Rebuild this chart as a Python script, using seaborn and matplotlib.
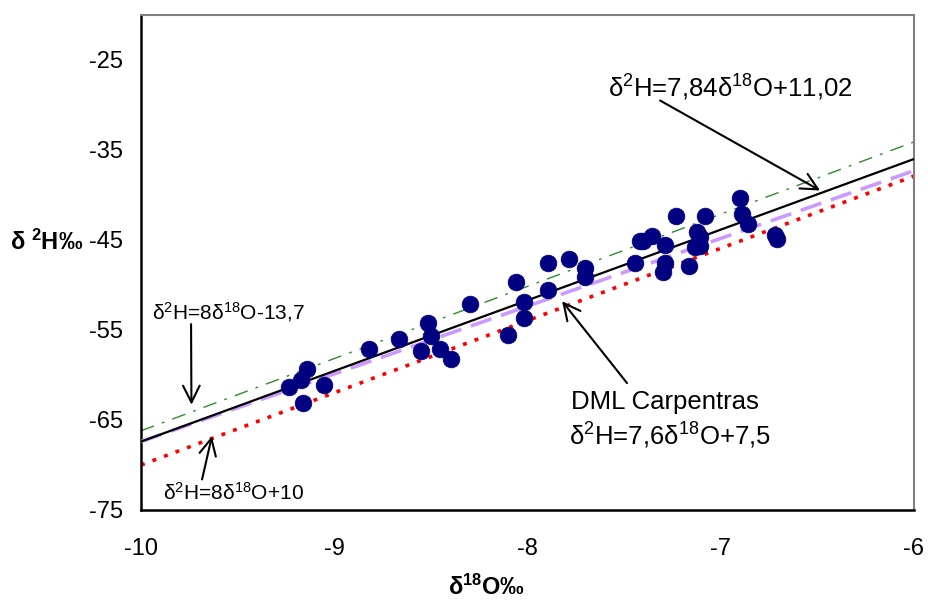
import matplotlib
matplotlib.use("Agg")
import matplotlib.pyplot as plt
import seaborn as sns
import pandas as pd

# ---- data ----
d18O = [-9.234, -9.170, -9.139, -9.162, -9.055, -8.820, -8.663, -8.516, -8.498,
        -8.550, -8.454, -8.394, -8.298, -8.061, -7.895, -7.784, -7.701, -7.701,
        -7.895, -8.020, -8.020, -8.103, -7.444, -7.418, -7.404, -7.357, -7.289,
        -7.233, -7.289, -7.297, -7.163, -7.121, -7.107, -7.132, -7.107, -7.080,
        -6.900, -6.892, -6.861, -6.719, -6.707]
d2H = [-61.3, -60.6, -59.3, -63.1, -61.1, -57.1, -56.0, -54.2, -55.7,
       -57.3, -57.1, -58.2, -52.1, -49.7, -47.5, -47.1, -48.1, -49.1,
       -50.6, -51.9, -53.7, -55.5, -47.5, -45.1, -45.1, -44.6, -45.5,
       -42.3, -47.5, -48.6, -47.9, -44.1, -44.7, -45.8, -45.7, -42.3,
       -40.3, -42.1, -43.2, -44.4, -44.9]

line_x = [-10, -6]
local_y = [-67.4, -36.0]     # d2H = 7,84 d18O + 11,02
green_y = [-66.2, -34.1]     # d2H = 8 d18O (+/-)13,7
red_y = [-70.0, -37.9]       # d2H = 8 d18O + 10
purple_y = [-67.4, -37.3]    # DML Carpentras

x_ticks = [-10, -9, -8, -7, -6]
y_ticks = [-75, -65, -55, -45, -35, -25]

# ---- style ----
sns.set_style("white")
plt.rcParams["font.family"] = ["Liberation Sans", "DejaVu Sans"]
plt.rcParams["mathtext.fontset"] = "custom"
plt.rcParams["mathtext.rm"] = "Liberation Sans"
plt.rcParams["mathtext.bf"] = "Liberation Sans:bold"
plt.rcParams["mathtext.default"] = "regular"
plt.rcParams["axes.unicode_minus"] = False
plt.rcParams["text.color"] = "black"
plt.rcParams["axes.labelcolor"] = "black"
plt.rcParams["xtick.color"] = "black"
plt.rcParams["ytick.color"] = "black"

fig = plt.figure(figsize=(9.29, 6.03), dpi=100)
ax = fig.add_axes([141 / 929, 93 / 603, 773 / 929, 495 / 603])

sns.lineplot(x=line_x, y=green_y, ax=ax, color="#2E8B2E", lw=1.0,
             linestyle=(0, (10, 6, 2, 6)), zorder=2)
sns.lineplot(x=line_x, y=red_y, ax=ax, color="#FF0000", lw=2.6,
             linestyle=(0, (1.1, 2.3)), zorder=2)
sns.lineplot(x=line_x, y=purple_y, ax=ax, color="#CC99FF", lw=2.6,
             linestyle=(0, (6, 2.8)), zorder=3)
sns.lineplot(x=line_x, y=local_y, ax=ax, color="black", lw=1.6, zorder=4)

df = pd.DataFrame({"d18O": d18O, "d2H": d2H})
sns.scatterplot(data=df, x="d18O", y="d2H", ax=ax, s=145, color="#000080",
                edgecolor="#000080", linewidth=0.5, zorder=5)

ax.set_xlim(-10, -6)
ax.set_ylim(-75, -20)
ax.set_xticks(x_ticks)
ax.set_yticks(y_ticks)
ax.tick_params(axis="both", direction="in", length=6, width=1.2, labelsize=17,
               colors="black", labelcolor="black")
ax.tick_params(axis="x", pad=20)
ax.tick_params(axis="y", pad=13)

for s in ["left", "bottom"]:
    ax.spines[s].set_color("black")
    ax.spines[s].set_linewidth(1.8)
for s in ["top", "right"]:
    ax.spines[s].set_color("#808080")
    ax.spines[s].set_linewidth(1.5)
    ax.spines[s].set_visible(True)

ax.set_xlabel("δ$^{18}$O‰", fontsize=17, fontweight="bold", va="center",
              color="black")
ax.xaxis.set_label_coords(0.4476, -0.157)
ax.set_ylabel("δ $^{2}$H‰", fontsize=17, fontweight="bold", rotation=0,
              ha="center", va="center", color="black")
ax.yaxis.set_label_coords(-0.122, 0.541)

arrow = dict(arrowstyle="->,head_length=1.2,head_width=0.6", lw=1.5,
             color="black", shrinkA=0, shrinkB=0)

# top equation
ax.text(-6.952, -28.15, "δ$^{2}$H=7,84δ$^{18}$O+11,02", fontsize=18.5,
        ha="center", va="center", color="black")
ax.annotate("", xy=(-6.486, -39.5), xytext=(-7.314, -29.5),
            arrowprops=arrow, zorder=6)

# DML Carpentras
ax.text(-7.775, -63.05, "DML Carpentras", fontsize=18.5, ha="left",
        va="center", color="black")
ax.text(-7.785, -66.8, "δ$^{2}$H=7,6δ$^{18}$O+7,5", fontsize=18.5,
        ha="left", va="center", color="black")
ax.annotate("", xy=(-7.821, -51.8), xytext=(-7.485, -60.9),
            arrowprops=arrow, zorder=6)

# small labels
ax.text(-9.943, -53.0, "δ$^{2}$H=8δ$^{18}$O-13,7", fontsize=15,
        ha="left", va="center", color="black")
ax.annotate("", xy=(-9.739, -63.3), xytext=(-9.741, -54.35),
            arrowprops=arrow, zorder=6)
ax.text(-9.886, -73.1, "δ$^{2}$H=8δ$^{18}$O+10", fontsize=15,
        ha="left", va="center", color="black")
ax.annotate("", xy=(-9.633, -66.8), xytext=(-9.684, -71.6),
            arrowprops=arrow, zorder=6)

fig.savefig("out.png", dpi=100)
